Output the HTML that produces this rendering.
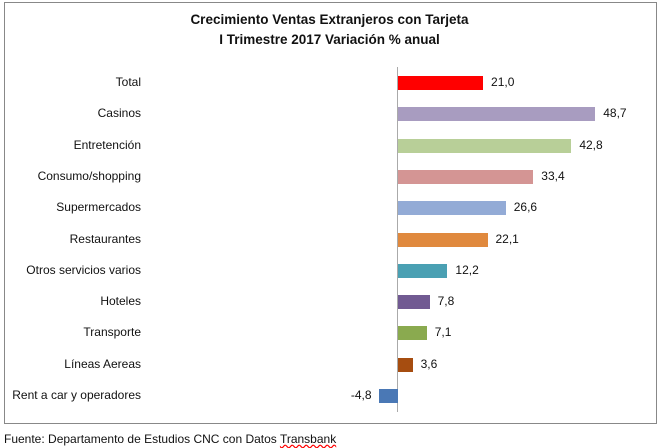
<!DOCTYPE html><html><head><style>
body{margin:0;width:659px;height:448px;background:#fff;font-family:"Liberation Sans",sans-serif;position:relative;overflow:hidden}
.b{position:absolute;left:4px;top:2px;width:651px;height:420px;border:1px solid #888}
.t{position:absolute;left:0;width:659px;text-align:center;font-weight:bold;font-size:13.5px;color:#111}
.l{position:absolute;right:518px;font-size:12px;color:#111;white-space:nowrap}
.bar{position:absolute;height:14px}
.v{position:absolute;font-size:12px;color:#111}
</style></head><body>
<div class="b"></div>
<div class="t" style="top:12px">Crecimiento Ventas Extranjeros con Tarjeta</div>
<div class="t" style="top:32px">I Trimestre 2017 Variación % anual</div>
<div style="position:absolute;left:397px;top:67px;width:1px;height:345px;background:#aaa"></div>
<div id="c"></div>
<div style="position:absolute;left:4px;top:432px;font-size:12px;color:#111">Fuente: Departamento de Estudios CNC con Datos <span style="text-decoration:underline wavy red">Transbank</span></div>
<script>
var d=[["Total",21.0,"#ff0000"],["Casinos",48.7,"#a89cc0"],["Entretención",42.8,"#b8cf98"],["Consumo/shopping",33.4,"#d49594"],["Supermercados",26.6,"#93abd6"],["Restaurantes",22.1,"#e0893e"],["Otros servicios varios",12.2,"#4aa0b3"],["Hoteles",7.8,"#715a92"],["Transporte",7.1,"#8aaa4f"],["Líneas Aereas",3.6,"#a64d10"],["Rent a car y operadores",-4.8,"#4a78b5"]];
var h="";d.forEach(function(r,i){var cy=83+i*31.3,w=r[1]*4.05,z=398;
var lab=r[1].toFixed(1).replace(".",",");
h+='<div class="l" style="top:'+(cy-8)+'px">'+r[0]+'</div>';
if(w>=0){h+='<div class="bar" style="left:'+z+'px;width:'+w+'px;top:'+(cy-7)+'px;background:'+r[2]+'"></div>';
h+='<div class="v" style="left:'+(z+w+8)+'px;top:'+(cy-8)+'px">'+lab+'</div>';}
else{h+='<div class="bar" style="left:'+(z+w)+'px;width:'+(-w)+'px;top:'+(cy-7)+'px;background:'+r[2]+'"></div>';
h+='<div class="v" style="right:'+(659-(z+w)+7)+'px;top:'+(cy-8)+'px">'+lab+'</div>';}
});document.getElementById("c").innerHTML=h;
</script>
</body></html>
